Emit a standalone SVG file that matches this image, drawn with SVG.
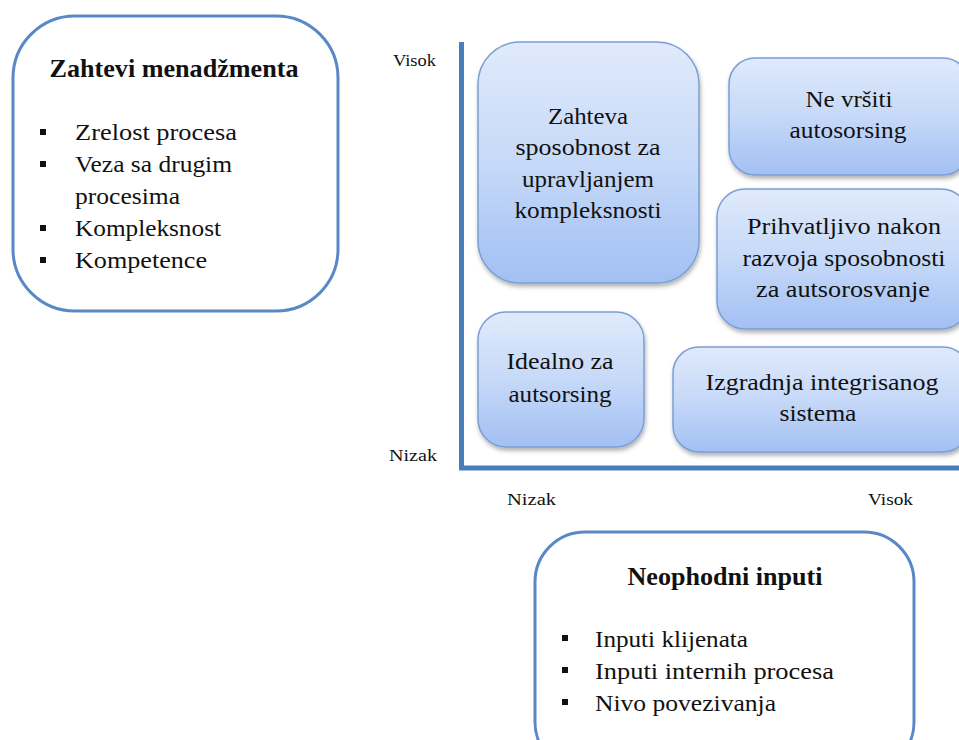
<svg xmlns="http://www.w3.org/2000/svg" width="959" height="740" viewBox="0 0 959 740">
  <defs>
    <linearGradient id="tile" x1="0" y1="0" x2="0" y2="1">
      <stop offset="0" stop-color="#e0eafb"/>
      <stop offset="0.5" stop-color="#c6d9f8"/>
      <stop offset="1" stop-color="#a2c0f3"/>
    </linearGradient>
    <filter id="shadow" x="-10%" y="-10%" width="120%" height="125%">
      <feDropShadow dx="1" dy="3" stdDeviation="2" flood-color="#000" flood-opacity="0.3"/>
    </filter>
  </defs>
  <style>
    .panel { fill: #ffffff; stroke: #5a88c6; stroke-width: 3; }
    .tile { fill: url(#tile); stroke: #7a9fd4; stroke-width: 1.5; filter: url(#shadow); }
    .axis { stroke: #4a7ebb; stroke-width: 5; fill: none; }
    .bullet { fill: #111; }
    text { font-family: "Liberation Serif", "Times New Roman", serif; fill: #111; }
    .title { font-size: 25px; font-weight: bold; text-anchor: middle; }
    .item { font-size: 24px; }
    .label { font-size: 24px; text-anchor: middle; }
    .tick { font-size: 16px; }
  </style>

  <rect width="959" height="740" fill="#ffffff"/>

  <!-- management requirements panel -->
  <g id="zahtevi">
    <rect class="panel" x="13" y="16" width="325" height="295" rx="62" ry="62"/>
    <text class="title" x="174" y="77" textLength="249" lengthAdjust="spacingAndGlyphs">Zahtevi menadžmenta</text>
    <rect class="bullet" x="40" y="129" width="6" height="6"/>
    <rect class="bullet" x="40" y="161" width="6" height="6"/>
    <rect class="bullet" x="40" y="225" width="6" height="6"/>
    <rect class="bullet" x="40" y="257" width="6" height="6"/>
    <text class="item" x="75" y="140" textLength="162" lengthAdjust="spacingAndGlyphs">Zrelost procesa</text>
    <text class="item" x="75" y="172" textLength="157" lengthAdjust="spacingAndGlyphs">Veza sa drugim</text>
    <text class="item" x="75" y="204" textLength="105" lengthAdjust="spacingAndGlyphs">procesima</text>
    <text class="item" x="75" y="236" textLength="146" lengthAdjust="spacingAndGlyphs">Kompleksnost</text>
    <text class="item" x="75" y="268" textLength="132" lengthAdjust="spacingAndGlyphs">Kompetence</text>
  </g>

  <!-- axes -->
  <g id="connectors">
    <path class="axis" d="M461.5,42 V468 H959"/>
  </g>
  <g id="axis-labels">
    <text class="tick" x="393" y="66" textLength="43" lengthAdjust="spacingAndGlyphs">Visok</text>
    <text class="tick" x="389" y="461" textLength="48" lengthAdjust="spacingAndGlyphs">Nizak</text>
    <text class="tick" x="507" y="505" textLength="49" lengthAdjust="spacingAndGlyphs">Nizak</text>
    <text class="tick" x="868" y="505" textLength="45" lengthAdjust="spacingAndGlyphs">Visok</text>
  </g>

  <!-- quadrant tiles -->
  <g id="zahteva">
    <rect class="tile" x="478" y="42" width="221" height="241" rx="42" ry="42"/>
    <text class="label" x="588" y="124" textLength="80" lengthAdjust="spacingAndGlyphs">Zahteva</text>
    <text class="label" x="588" y="155" textLength="145" lengthAdjust="spacingAndGlyphs">sposobnost  za</text>
    <text class="label" x="588" y="187" textLength="132" lengthAdjust="spacingAndGlyphs">upravljanjem</text>
    <text class="label" x="588" y="218" textLength="147" lengthAdjust="spacingAndGlyphs">kompleksnosti</text>
  </g>
  <g id="ne-vrsiti">
    <rect class="tile" x="729" y="58" width="240" height="117" rx="26" ry="26"/>
    <text class="label" x="849" y="107" textLength="87" lengthAdjust="spacingAndGlyphs">Ne vršiti</text>
    <text class="label" x="848" y="138" textLength="117" lengthAdjust="spacingAndGlyphs">autosorsing</text>
  </g>
  <g id="prihvatljivo">
    <rect class="tile" x="717" y="189" width="252" height="140" rx="28" ry="28"/>
    <text class="label" x="844" y="234" textLength="194" lengthAdjust="spacingAndGlyphs">Prihvatljivo  nakon</text>
    <text class="label" x="844" y="266" textLength="203" lengthAdjust="spacingAndGlyphs">razvoja  sposobnosti</text>
    <text class="label" x="843" y="297" textLength="174" lengthAdjust="spacingAndGlyphs">za autsorosvanje</text>
  </g>
  <g id="idealno">
    <rect class="tile" x="478" y="312" width="166" height="135" rx="28" ry="28"/>
    <text class="label" x="560" y="369" textLength="107" lengthAdjust="spacingAndGlyphs">Idealno  za</text>
    <text class="label" x="560" y="402" textLength="103" lengthAdjust="spacingAndGlyphs">autsorsing</text>
  </g>
  <g id="izgradnja">
    <rect class="tile" x="673" y="347" width="296" height="105" rx="26" ry="26"/>
    <text class="label" x="822" y="390" textLength="233" lengthAdjust="spacingAndGlyphs">Izgradnja  integrisanog</text>
    <text class="label" x="818" y="421" textLength="77" lengthAdjust="spacingAndGlyphs">sistema</text>
  </g>

  <!-- required inputs panel -->
  <g id="neophodni">
    <rect class="panel" x="535" y="532" width="379" height="240" rx="50" ry="50"/>
    <text class="title" x="725" y="585" textLength="195" lengthAdjust="spacingAndGlyphs">Neophodni inputi</text>
    <rect class="bullet" x="562" y="635" width="6" height="6"/>
    <rect class="bullet" x="562" y="667" width="6" height="6"/>
    <rect class="bullet" x="562" y="699" width="6" height="6"/>
    <text class="item" x="595" y="647" textLength="153" lengthAdjust="spacingAndGlyphs">Inputi  klijenata</text>
    <text class="item" x="595" y="679" textLength="239" lengthAdjust="spacingAndGlyphs">Inputi  internih  procesa</text>
    <text class="item" x="595" y="711" textLength="181" lengthAdjust="spacingAndGlyphs">Nivo  povezivanja</text>
  </g>
</svg>
